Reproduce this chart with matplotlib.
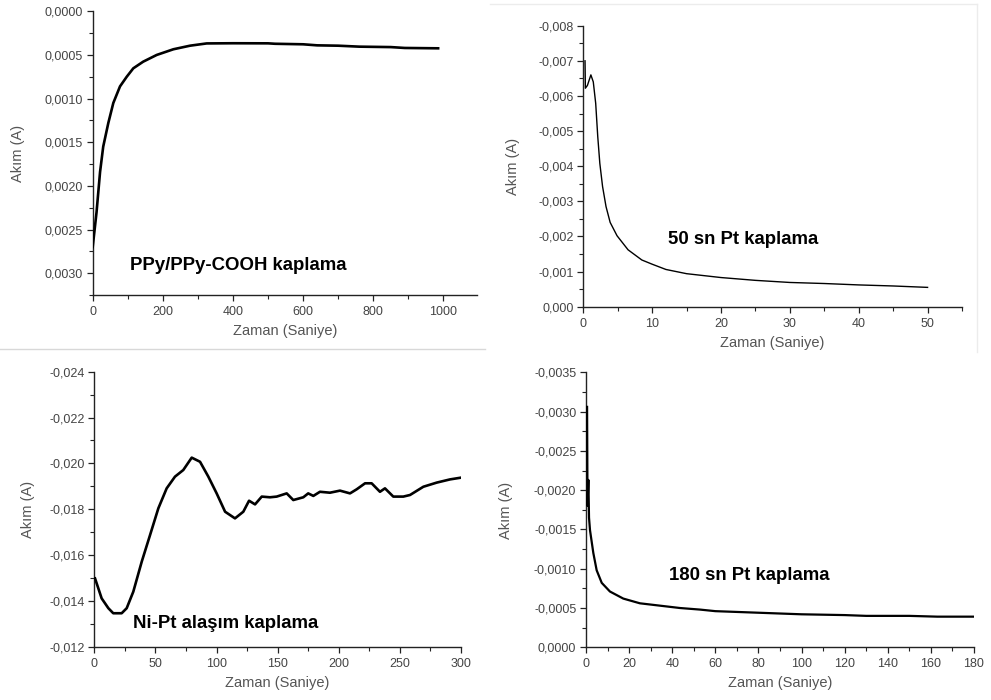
import matplotlib
matplotlib.use('Agg')
import matplotlib.pyplot as plt
from matplotlib.ticker import MultipleLocator, FuncFormatter
from matplotlib.lines import Line2D

plt.rcParams['font.family'] = ['Liberation Sans', 'DejaVu Sans']

# 1. PPy/PPy-COOH kaplama (akim pozitif, eksen ters)
t_ppy = [0, 11, 21, 30, 44.5, 58.8, 77.9, 97, 115.8, 144, 182.5, 230, 277.5,
         325, 400, 500, 520, 600, 640, 700, 760, 850, 890, 985]
i_ppy = [0.00270, 0.00230, 0.00184, 0.00155, 0.00128, 0.00105, 0.00086, 0.00075,
         0.000653, 0.000577, 0.000500, 0.000435, 0.000394, 0.000368,
         0.000366, 0.000367, 0.000372, 0.000378, 0.000390, 0.000394,
         0.000405, 0.000410, 0.000420, 0.000424]

# 2. 50 sn Pt kaplama
t_pt50 = [0.25, 0.3, 0.6, 1.1, 1.45, 1.8, 2.1, 2.4, 2.8, 3.3, 3.9, 4.9, 6.5,
          8.5, 10, 12, 15, 20, 25, 30, 35, 40, 45, 50]
i_pt50 = [-0.00700, -0.00622, -0.00630, -0.00660, -0.00640, -0.00579, -0.00484,
          -0.00408, -0.00342, -0.00285, -0.00240, -0.00202, -0.00162, -0.00133,
          -0.00121, -0.00106, -0.00094, -0.00083, -0.00075, -0.00069, -0.00066,
          -0.00062, -0.00059, -0.00055]

# 3. Ni-Pt alasim kaplama
t_nipt = [0.6, 6, 11.5, 15.5, 22.4, 26.5, 31.9, 38.8, 45.6, 52.4, 59.2, 66,
          72.8, 79.7, 86.5, 93.3, 100.1, 107, 115.1, 121.9, 126.6, 131.5, 137,
          143.7, 149.2, 157.4, 162.8, 171, 175, 179.2, 184.6, 192.8, 201, 209.2,
          214.7, 221.5, 226.9, 233.7, 237.8, 244.6, 252.8, 258.3, 269.2, 280.1,
          291, 299.2]
i_nipt = [-0.01498, -0.01411, -0.01368, -0.01346, -0.01346, -0.01368, -0.01440,
          -0.01571, -0.01687, -0.01804, -0.01891, -0.01942, -0.01971, -0.02025,
          -0.02007, -0.01942, -0.01869, -0.01789, -0.01760, -0.01789, -0.01837,
          -0.01821, -0.01855, -0.01852, -0.01855, -0.01869, -0.01840, -0.01852,
          -0.01869, -0.01858, -0.01876, -0.01872, -0.01881, -0.01869, -0.01887,
          -0.01913, -0.01913, -0.01876, -0.01891, -0.01855, -0.01855, -0.01862,
          -0.01898, -0.01916, -0.01930, -0.01937]

# 4. 180 sn Pt kaplama
t_pt180 = [0.5, 0.7, 1.1, 1.4, 1.86, 3.4, 4.95, 7.3, 11.1, 17.3, 25, 34.3,
           43.6, 52.9, 60, 80, 100, 120, 130, 150, 163, 180]
i_pt180 = [-0.00306, -0.00180, -0.00213, -0.00165, -0.00149, -0.00120, -0.00098,
           -0.00082, -0.00071, -0.00062, -0.00056, -0.00053, -0.00050, -0.00048,
           -0.00046, -0.00044, -0.00042, -0.00041, -0.00040, -0.00040,
           -0.00039, -0.00039]

W, H = 991, 700
fig = plt.figure(figsize=(W / 100, H / 100), dpi=100)


def rect(l, t, r, b):
    return [l / W, 1 - b / H, (r - l) / W, (b - t) / H]


def fmt(nd):
    def f(v, pos):
        if abs(v) < 1e-12:
            v = 0.0
        return f'{v:.{nd}f}'.replace('.', ',')
    return FuncFormatter(f)


def panel(box, x, y, lw, xlim, ylim, xmaj, xmin, ymaj, ymin, nd):
    ax = fig.add_axes(rect(*box))
    ax.plot(x, y, color='black', lw=lw, solid_joinstyle='round', zorder=3)
    ax.set_xlim(*xlim)
    ax.set_ylim(*ylim)
    ax.xaxis.set_major_locator(MultipleLocator(xmaj))
    ax.xaxis.set_minor_locator(MultipleLocator(xmin))
    ax.yaxis.set_major_locator(MultipleLocator(ymaj))
    ax.yaxis.set_minor_locator(MultipleLocator(ymin))
    ax.yaxis.set_major_formatter(fmt(nd))
    for s in ['top', 'right']:
        ax.spines[s].set_visible(False)
    for s in ['left', 'bottom']:
        ax.spines[s].set_linewidth(1.0)
        ax.spines[s].set_color('#222222')
    ax.tick_params(which='major', direction='out', length=4, width=0.9,
                   color='#222222', labelsize=9, labelcolor='#444444', pad=3)
    ax.tick_params(which='minor', direction='out', length=3, width=0.8,
                   color='#222222')
    ax.tick_params(axis='x', which='major', pad=4)
    l, t, r, b = box
    fig.text(((l + r) / 2) / W, 1 - (b + 36) / H, 'Zaman (Saniye)',
             ha='center', va='center', fontsize=10.5, color='#555555')
    return ax


boxes = [(92.7, 11.3, 476.7, 295), (583.3, 25.7, 962, 306.7),
         (94.3, 371.7, 461, 646.7), (586, 372.3, 974, 647.3)]

panel(boxes[0], t_ppy, i_ppy, 1.9, (0, 1095), (0.00325, 0), 200, 100,
      0.0005, 0.00025, 4)
panel(boxes[1], t_pt50, i_pt50, 1.0, (0, 55), (0, -0.008), 10, 5,
      0.001, 0.0005, 3)
panel(boxes[2], t_nipt, i_nipt, 1.9, (0, 300), (-0.012, -0.024), 50, 25,
      0.002, 0.001, 3)
panel(boxes[3], t_pt180, i_pt180, 1.6, (0, 180), (0, -0.0035), 20, 10,
      0.0005, 0.00025, 4)

# y eksen etiketleri
for xp, yp in [(18, 153), (513, 166), (28, 509), (506, 510)]:
    fig.text(xp / W, 1 - yp / H, 'Akım (A)', rotation=90, ha='center',
             va='center', fontsize=10.5, color='#555555')

# kaplama yazilari
notes = [('PPy/PPy-COOH kaplama', 130, 265), ('50 sn Pt kaplama', 668, 239),
         ('Ni-Pt alaşım kaplama', 133, 623), ('180 sn Pt kaplama', 669, 575)]
for txt, xp, yp in notes:
    fig.text(xp / W, 1 - yp / H, txt, ha='left', va='center', fontsize=13.4,
             fontweight='bold', color='black')

# panel kenar cizgileri
fig.add_artist(Line2D([0, 485 / W], [1 - 349 / H, 1 - 349 / H],
                      color='#d8d8d8', lw=1))
fig.add_artist(Line2D([490 / W, 977 / W], [1 - 4 / H, 1 - 4 / H],
                      color='#ececec', lw=1))
fig.add_artist(Line2D([977 / W, 977 / W], [1 - 4 / H, 1 - 352 / H],
                      color='#ececec', lw=1))

fig.savefig('out.png', dpi=100)
